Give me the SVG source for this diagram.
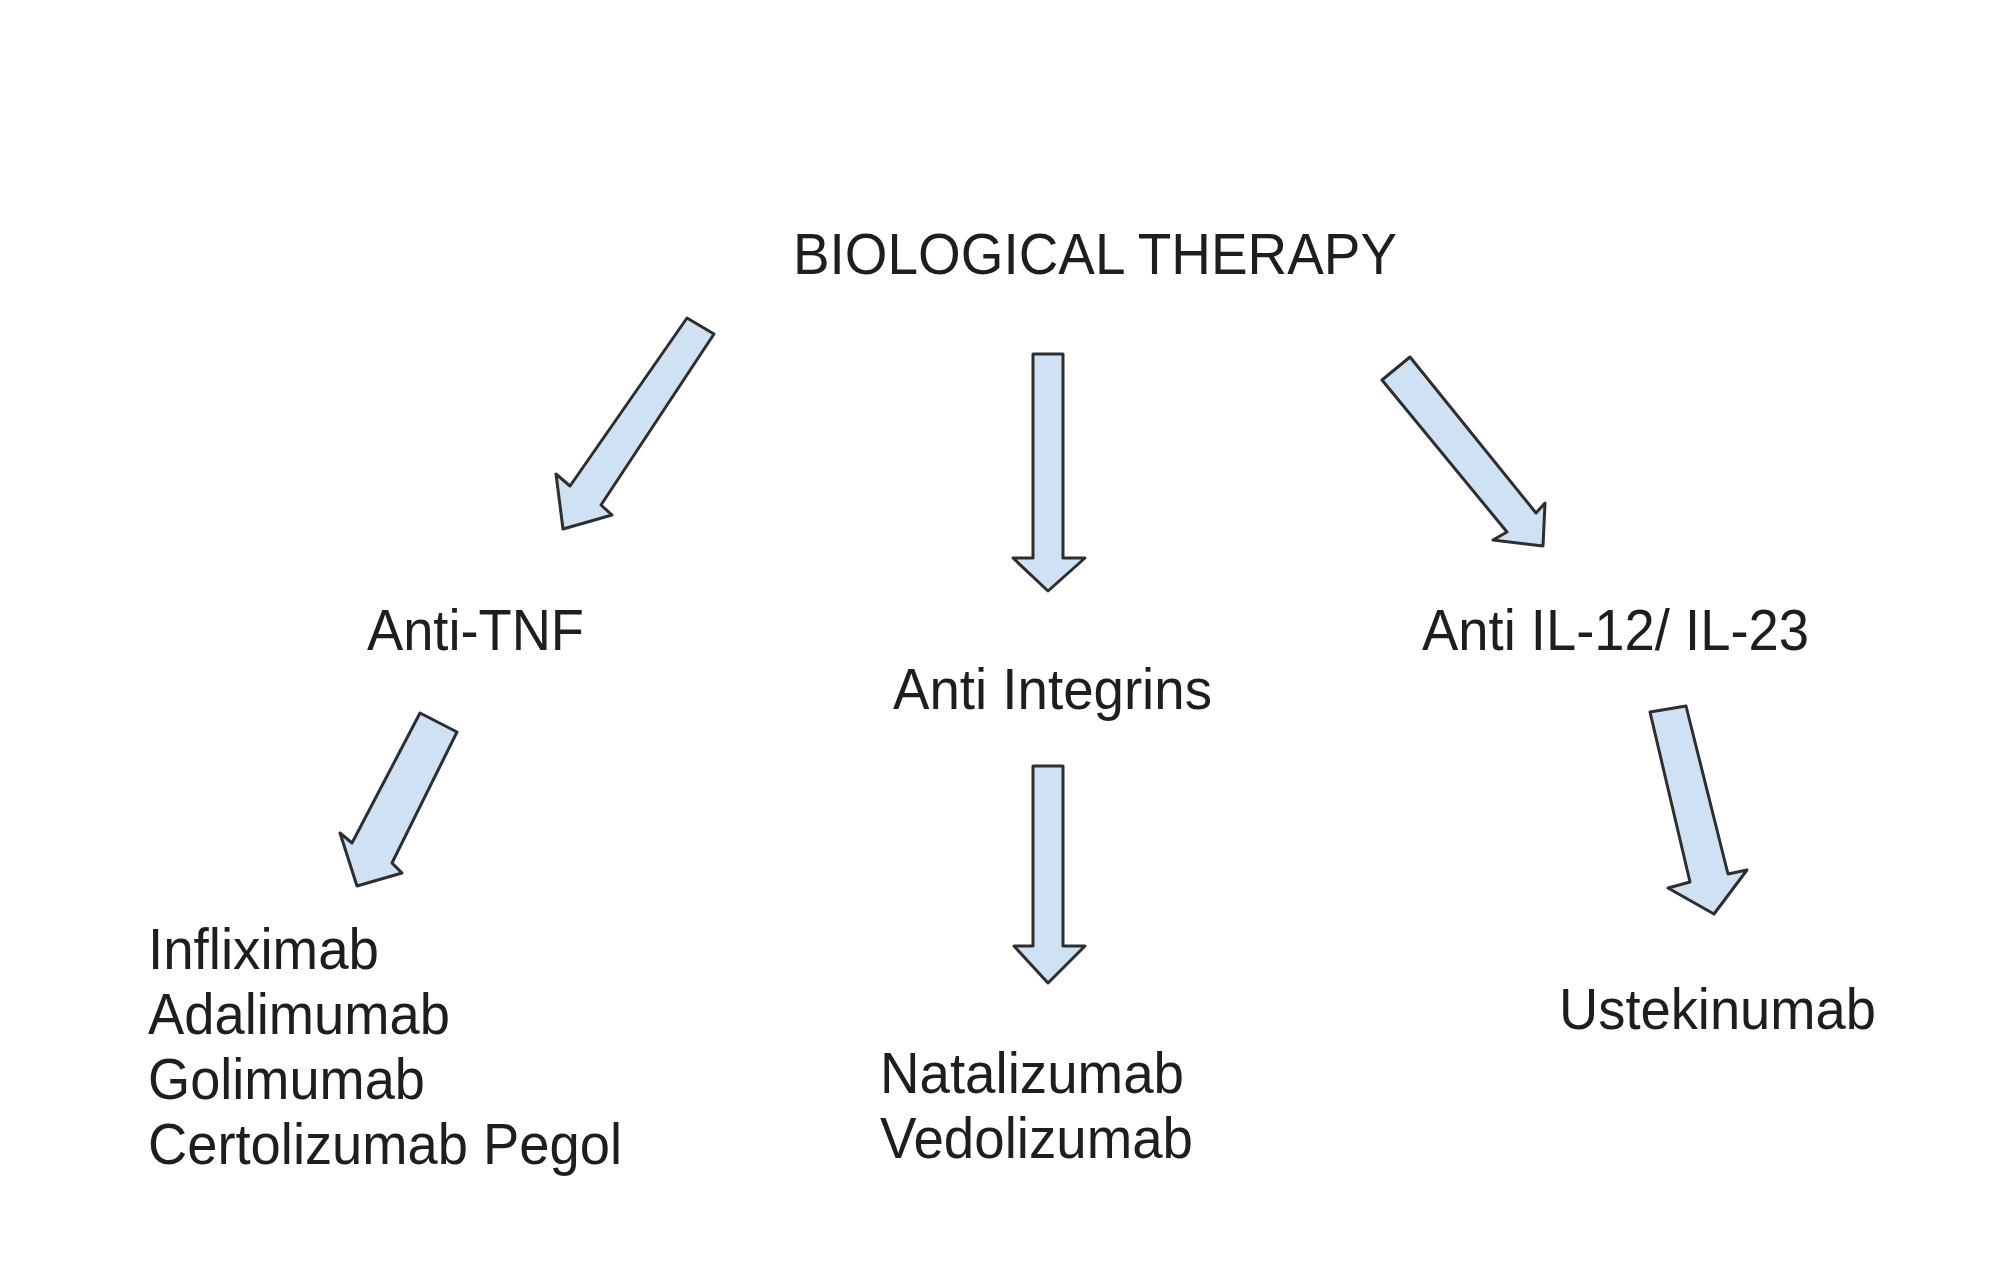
<svg xmlns="http://www.w3.org/2000/svg" width="2000" height="1261" viewBox="0 0 2000 1261">
<style>
.t{font-family:"Liberation Sans",Arial,sans-serif;font-size:57px;fill:#1e1e1e}
.a{fill:#cfe2f3;stroke:#2e2e2e;stroke-width:3;stroke-linejoin:round}
</style>
<rect width="2000" height="1261" fill="#ffffff"/>
<g id="connectors">
<polygon class="a" points="687,318 714,334 601,505 612,515 563,529 556,474 570,486"/>
<polygon class="a" points="1033,354 1063,354 1063,558 1085,558 1048,591 1013,558 1033,558"/>
<polygon class="a" points="1382,380 1410,357 1536,513 1545,503 1543,546 1493,540 1507,532"/>
<polygon class="a" points="420,713 457,732 392,863 402,873 357,886 340,833 352,843"/>
<polygon class="a" points="1033,766 1063,766 1063,946 1085,946 1048,983 1014,946 1033,946"/>
<polygon class="a" points="1650,712 1686,706 1728,874 1747,870 1714,914 1668,888 1690,882"/>
</g>
<g id="root"><text class="t" x="793" y="274" textLength="604" lengthAdjust="spacingAndGlyphs">BIOLOGICAL THERAPY</text></g>
<g id="anti-tnf"><text class="t" x="367" y="650" textLength="217" lengthAdjust="spacingAndGlyphs">Anti-TNF</text></g>
<g id="anti-integrins"><text class="t" x="893" y="709" textLength="319" lengthAdjust="spacingAndGlyphs">Anti Integrins</text></g>
<g id="anti-il"><text class="t" x="1422" y="650" textLength="387" lengthAdjust="spacingAndGlyphs">Anti IL-12/ IL-23</text></g>
<g id="anti-tnf-drugs">
<text class="t" x="148" y="969" textLength="231" lengthAdjust="spacingAndGlyphs">Infliximab</text>
<text class="t" x="148" y="1034" textLength="302" lengthAdjust="spacingAndGlyphs">Adalimumab</text>
<text class="t" x="148" y="1099" textLength="277" lengthAdjust="spacingAndGlyphs">Golimumab</text>
<text class="t" x="148" y="1164" textLength="474" lengthAdjust="spacingAndGlyphs">Certolizumab Pegol</text>
</g>
<g id="integrin-drugs">
<text class="t" x="880" y="1093" textLength="304" lengthAdjust="spacingAndGlyphs">Natalizumab</text>
<text class="t" x="880" y="1158" textLength="313" lengthAdjust="spacingAndGlyphs">Vedolizumab</text>
</g>
<g id="il-drugs"><text class="t" x="1559" y="1029" textLength="317" lengthAdjust="spacingAndGlyphs">Ustekinumab</text></g>
</svg>
